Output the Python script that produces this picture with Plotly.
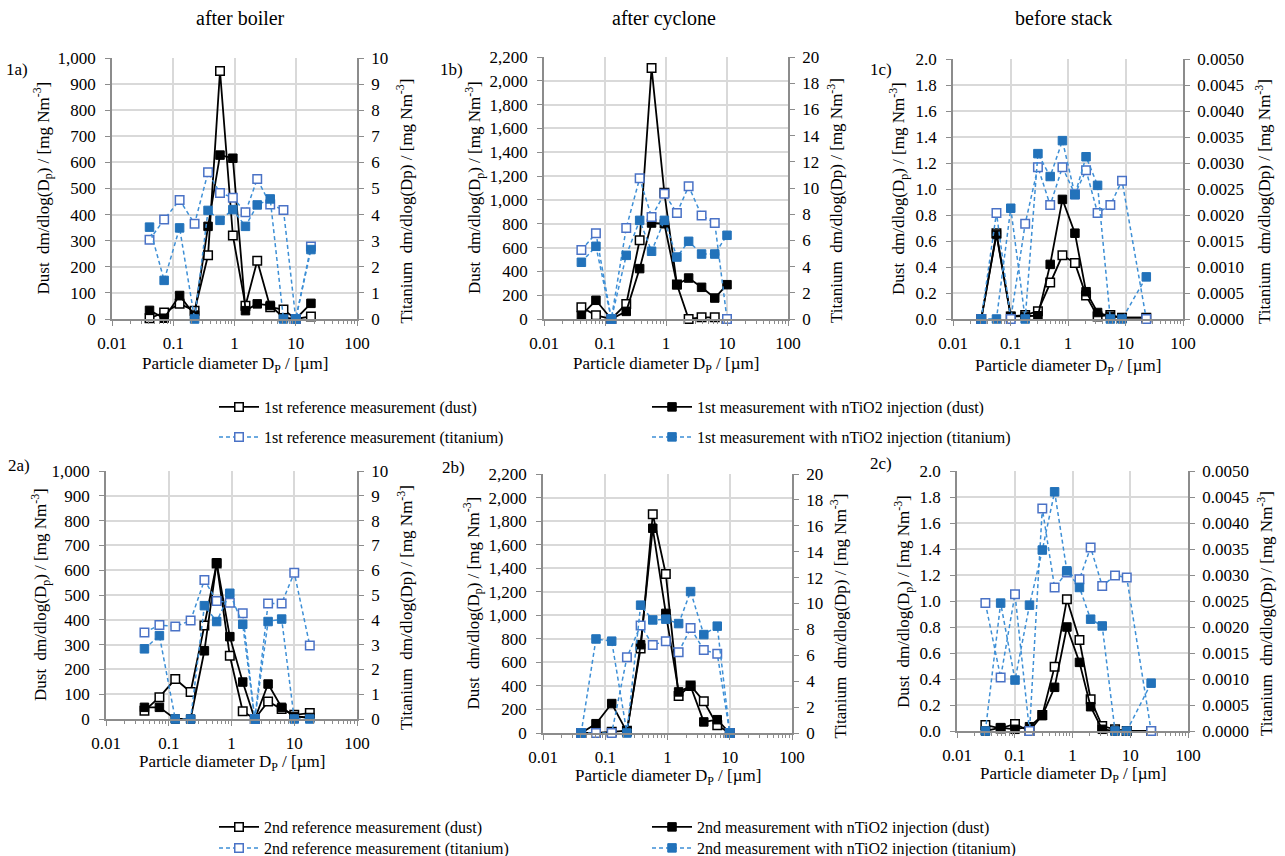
import plotly.graph_objects as go

W, H = 1285, 856
FONT = "Liberation Serif"

# ---------------- data ----------------
# particle diameters (µm) of the impactor stages
X_AB = [0.041, 0.071, 0.127, 0.223, 0.37, 0.58, 0.94, 1.51, 2.35, 3.83, 6.3, 10.0, 17.7]
X_C = [0.031, 0.057, 0.101, 0.18, 0.30, 0.49, 0.80, 1.32, 2.06, 3.27, 5.45, 8.7, 23.0]

# 1st campaign
ref1_dust_a = [3, 25, 58, 32, 244, 950, 320, 51, 223, 45, 36, 0, 10]
inj1_dust_a = [33, 3, 90, 15, 355, 628, 616, 32, 58, 52, 5, 0, 60]
ref1_ti_a = [3.04, 3.81, 4.56, 3.65, 5.62, 4.83, 4.65, 4.09, 5.36, 4.39, 4.18, 0, 2.78]
inj1_ti_a = [3.52, 1.48, 3.49, 0, 4.16, 3.78, 4.19, 3.55, 4.37, 4.6, 0, 0, 2.66]

ref1_dust_b = [98, 31, 0, 126, 661, 2108, 1060, 290, 0, 14, 14, None]
inj1_dust_b = [31, 157, 0, 64, 423, 806, 800, 288, 344, 266, 176, 288]
ref1_ti_b = [5.27, 6.54, 0, 6.95, 10.74, 7.79, 9.57, 8.09, 10.13, 7.91, 7.33, 0]
inj1_ti_b = [4.33, 5.55, 0, 4.86, 7.53, 5.17, 7.53, 4.73, 5.93, 4.96, 4.96, 6.39]

ref1_dust_c = [0, 0.66, 0.02, 0.03, 0.06, 0.28, 0.49, 0.43, 0.18, 0.02, 0.03, 0.01, 0.01]
inj1_dust_c = [0, 0.65, 0.02, 0.02, 0.025, 0.42, 0.92, 0.66, 0.21, 0.05, 0.02, 0.01, 0.01]
ref1_ti_c = [0, 0.00204, 0, 0.00183, 0.00292, 0.00219, 0.00292, 0.0024, 0.00286, 0.00204, 0.00219, 0.00266, 0]
inj1_ti_c = [0, 0, 0.00213, 0, 0.00318, 0.00274, 0.00343, 0.00239, 0.00312, 0.00257, 0, 0, 0.00081]

# 2nd campaign
ref2_dust_a = [33, 88, 161, 109, 377, 627, 255, 31, 0, 71, 40, 17, 24]
inj2_dust_a = [47, 47, 0, 0, 275, 630, 332, 149, 0, 141, 47, 10, 6]
ref2_ti_a = [3.49, 3.79, 3.73, 3.97, 5.6, 4.76, 4.69, 4.26, 0, 4.66, 4.66, 5.9, 2.96]
inj2_ti_a = [2.83, 3.36, 0, 0, 4.57, 3.93, 5.07, 3.82, 0, 3.93, 4.03, 0, 0]

ref2_dust_b = [0, 0, 10, 20, 718, 1858, 1350, 315, 403, 270, 65, 0]
inj2_dust_b = [0, 79, 250, 10, 750, 1739, 1016, 349, 397, 94, 113, 0]
ref2_ti_b = [0, 0, 0, 5.84, 8.31, 6.8, 7.09, 6.24, 8.11, 6.41, 6.12, 0]
inj2_ti_b = [0, 7.26, 7.09, 0, 9.87, 8.73, 8.79, 8.45, 10.92, 7.6, 8.25, 0]

ref2_dust_c = [0.046, 0.02, 0.054, 0, 0.123, 0.495, 1.013, 0.70, 0.244, 0.038, 0.013, 0, 0]
inj2_dust_c = [0, 0.026, 0.013, 0.033, 0.118, 0.336, 0.80, 0.528, 0.187, 0.013, 0, 0, 0]
ref2_ti_c = [0.00246, 0.00103, 0.00263, 0, 0.00428, 0.00276, 0.00305, 0.00292, 0.00353, 0.00279, 0.00299, 0.00295, 0]
inj2_ti_c = [0, 0.00246, 0.00098, 0.00242, 0.00348, 0.0046, 0.00308, 0.00276, 0.00215, 0.00202, 0, 0, 0.00092]

X_TICKS = [0.01, 0.1, 1, 10, 100]
X_TICKTEXT = ["0.01", "0.1", "1", "10", "100"]
X_MINOR = [m * d for d in (0.01, 0.1, 1, 10) for m in range(2, 10)]
COL_TITLES = ["after boiler", "after cyclone", "before stack"]
PANEL_LABELS = ["1a)", "1b)", "1c)", "2a)", "2b)", "2c)"]

LEG1 = ["1st reference measurement (dust)", "1st measurement with nTiO2 injection (dust)",
        "1st reference measurement (titanium)", "1st measurement with nTiO2 injection (titanium)"]
LEG2 = ["2nd reference measurement (dust)", "2nd measurement with nTiO2 injection (dust)",
        "2nd reference measurement (titanium)", "2nd measurement with nTiO2 injection (titanium)"]

YL = "Dust\u00a0\u00a0dm/dlog(D<sub>p</sub>) / [mg Nm<sup>-3</sup>]"
YR = "Titanium\u00a0\u00a0dm/dlog(Dp) / [mg Nm<sup>-3</sup>]"
XT = "Particle diameter D<sub>P</sub> / [µm]"

# ---------------- styling ----------------
BLACK = "#000000"
BLUE_LINE = "#3D8FD6"
BLUE_FILL = "#2272BA"
BLUE_OPEN = "#4A72C6"
AXIS_C = "#8C8C8C"
GRID_C = "#D9D9D9"

# panel boxes in pixels: (left, right, top, bottom)
BOXES = [(112, 357, 58, 319), (544, 788, 57, 319), (953, 1183, 59, 319),
         (106, 357, 471, 719), (543, 792, 474, 733), (957, 1188, 471, 731)]
# axis-title centre positions (pixels)
LEFT_TITLE_X = [43, 475, 898, 40, 473, 903]
RIGHT_TITLE_X = [405, 835, 1263, 405, 838, 1265]
X_TITLE_Y = [365, 365, 367, 763, 777, 775]

LEFT_AX = [dict(range=[0, 1000], dtick=100, tickformat=",d"),
           dict(range=[0, 2200], dtick=200, tickformat=",d"),
           dict(range=[0, 2.0], dtick=0.2, tickformat=".1f")]
RIGHT_AX = [dict(range=[0, 10], dtick=1, tickformat="d"),
            dict(range=[0, 20], dtick=2, tickformat="d"),
            dict(range=[0, 0.005], dtick=0.0005, tickformat=".4f")]

panel_data = [
    (X_AB, ref1_dust_a, inj1_dust_a, ref1_ti_a, inj1_ti_a),
    (X_AB[:12], ref1_dust_b, inj1_dust_b, ref1_ti_b, inj1_ti_b),
    (X_C, ref1_dust_c, inj1_dust_c, ref1_ti_c, inj1_ti_c),
    (X_AB, ref2_dust_a, inj2_dust_a, ref2_ti_a, inj2_ti_a),
    (X_AB[:12], ref2_dust_b, inj2_dust_b, ref2_ti_b, inj2_ti_b),
    (X_C, ref2_dust_c, inj2_dust_c, ref2_ti_c, inj2_ti_c),
]


def fx(px):
    return px / W


def fy(py):
    return 1 - py / H


fig = go.Figure()
layout = dict(template="none", width=W, height=H,
              margin=dict(l=0, r=0, t=0, b=0, pad=0, autoexpand=False),
              paper_bgcolor="white", plot_bgcolor="white",
              font=dict(family=FONT, color="black", size=16), showlegend=True)

# legend positions (pixels): legend box left x, centre y
leg_pos = [(214, 407), (647, 407), (214, 437), (647, 437),
           (214, 827), (647, 827), (214, 848), (647, 848)]

tick_font = dict(family=FONT, size=17, color="black")
title_font = dict(family=FONT, size=17, color="black")

annotations = []
for i in range(6):
    n = i + 1
    col = i % 3
    row = i // 3
    l, r, t, b = BOXES[i]
    xs = "" if n == 1 else str(n)
    xk, ylk, yrk = "xaxis" + xs, "yaxis" + xs, "yaxis" + str(n + 6)
    xr, ylr, yrr = "x" + xs, "y" + xs, "y" + str(n + 6)

    layout[xk] = dict(type="log", range=[-2, 2], domain=[fx(l), fx(r)], anchor=ylr,
                      tickvals=X_TICKS, ticktext=X_TICKTEXT, showgrid=True,
                      gridcolor=GRID_C, gridwidth=1.5, showline=True, linecolor=AXIS_C,
                      linewidth=1.5, ticks="outside", ticklen=5, tickcolor=AXIS_C,
                      ticklabelstandoff=3, tickfont=dict(tick_font), zeroline=False,
                      automargin=False,
                      minor=dict(tickvals=X_MINOR, ticks="outside", ticklen=3,
                                 tickcolor=AXIS_C, showgrid=False))
    layout[ylk] = dict(domain=[fy(b), fy(t)], anchor=xr, showgrid=True,
                       gridcolor=GRID_C, gridwidth=1.5, showline=True, linecolor=AXIS_C,
                       linewidth=1.5, ticks="outside", ticklen=5, tickcolor=AXIS_C,
                       ticklabelstandoff=6, tickfont=dict(tick_font), zeroline=False,
                       automargin=False, **LEFT_AX[col])
    layout[yrk] = dict(overlaying=ylr, side="right", anchor=xr, showgrid=False,
                       showline=True, linecolor=AXIS_C, linewidth=1.5, ticks="outside",
                       ticklen=5, tickcolor=AXIS_C, ticklabelstandoff=4,
                       tickfont=dict(tick_font), zeroline=False, automargin=False,
                       **RIGHT_AX[col])

    # axis titles
    cy = (t + b) / 2
    annotations.append(dict(text=YL, x=fx(LEFT_TITLE_X[i]), y=fy(cy), textangle=-90,
                            xref="paper", yref="paper", showarrow=False, font=dict(title_font),
                            xanchor="center", yanchor="middle"))
    annotations.append(dict(text=YR, x=fx(RIGHT_TITLE_X[i]), y=fy(cy + 13), textangle=-90,
                            xref="paper", yref="paper", showarrow=False, font=dict(title_font),
                            xanchor="center", yanchor="middle"))
    annotations.append(dict(text=XT, x=fx((l + r) / 2), y=fy(X_TITLE_Y[i]),
                            xref="paper", yref="paper", showarrow=False, font=dict(title_font),
                            xanchor="center", yanchor="middle"))

    x, rd, idust, rti, iti = panel_data[i]
    names = LEG1 if row == 0 else LEG2
    show = (col == 0)
    base = 1 if row == 0 else 5
    lg = ["legend" if base == 1 else "legend5"] + ["legend" + str(base + k) for k in (1, 2, 3)]

    common = dict(mode="lines+markers", cliponaxis=False, xaxis=xr)
    fig.add_trace(go.Scatter(x=x, y=rd, yaxis=ylr, name=names[0], showlegend=show, legend=lg[0],
                             line=dict(color=BLACK, width=1.8),
                             marker=dict(symbol="square", size=8.5, color="white",
                                         line=dict(color=BLACK, width=1.5)), **common))
    fig.add_trace(go.Scatter(x=x, y=idust, yaxis=ylr, name=names[1], showlegend=show, legend=lg[1],
                             line=dict(color=BLACK, width=1.8),
                             marker=dict(symbol="square", size=8.5, color=BLACK,
                                         line=dict(color=BLACK, width=1)), **common))
    fig.add_trace(go.Scatter(x=x, y=rti, yaxis=yrr, name=names[2], showlegend=show, legend=lg[2],
                             line=dict(color=BLUE_LINE, width=1.5, dash="4px,3px"),
                             marker=dict(symbol="square", size=8.5, color="white",
                                         line=dict(color=BLUE_OPEN, width=1.5)), **common))
    fig.add_trace(go.Scatter(x=x, y=iti, yaxis=yrr, name=names[3], showlegend=show, legend=lg[3],
                             line=dict(color=BLUE_LINE, width=1.5, dash="4px,3px"),
                             marker=dict(symbol="square", size=8.5, color=BLUE_FILL,
                                         line=dict(color=BLUE_FILL, width=1)), **common))

for k, (px, py) in enumerate(leg_pos):
    key = "legend" if k == 0 else "legend" + str(k + 1)
    layout[key] = dict(x=fx(px), y=fy(py), xanchor="left", yanchor="middle",
                       bgcolor="rgba(0,0,0,0)", borderwidth=0,
                       font=dict(family=FONT, size=16, color="black"),
                       tracegroupgap=0, itemwidth=40)

for cx, txt in zip([240, 664, 1063], COL_TITLES):
    annotations.append(dict(text=txt, x=fx(cx), y=fy(18), xref="paper", yref="paper",
                            showarrow=False, font=dict(family=FONT, size=20, color="black"),
                            xanchor="center", yanchor="middle"))
for (px, py), txt in zip([(4, 70), (438, 70), (868, 70), (6, 465), (440, 467), (868, 464)],
                         PANEL_LABELS):
    annotations.append(dict(text=txt, x=fx(px), y=fy(py), xref="paper", yref="paper",
                            showarrow=False, font=dict(family=FONT, size=17, color="black"),
                            xanchor="left", yanchor="middle"))
layout["annotations"] = annotations

fig.update_layout(**layout)
fig.write_html("out.html", config={"displayModeBar": False},
               post_script="document.body.style.margin='0';document.body.style.overflow='hidden';")
